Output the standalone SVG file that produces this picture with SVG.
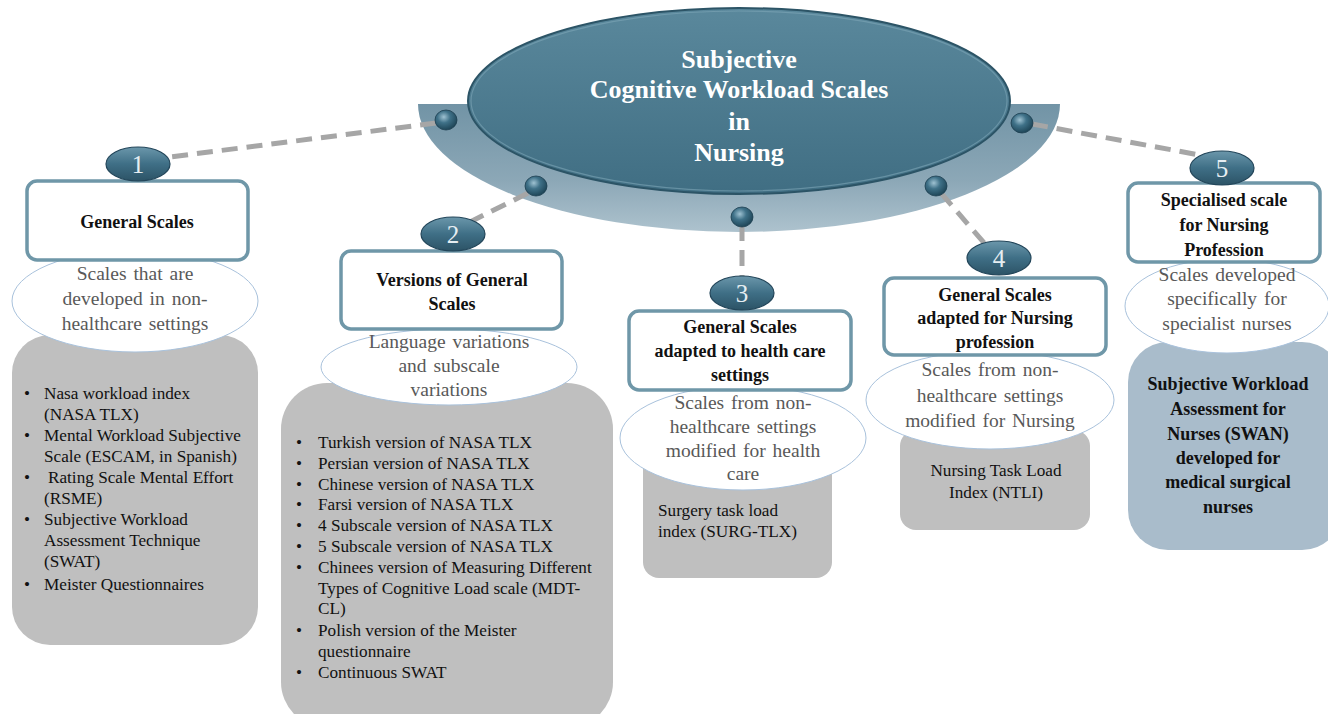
<svg xmlns="http://www.w3.org/2000/svg" width="1328" height="714" viewBox="0 0 1328 714" font-family="'Liberation Serif', 'Times New Roman', serif">
<defs>
<linearGradient id="band" x1="0" y1="0" x2="0" y2="1">
<stop offset="0" stop-color="#6a8ea1"/>
<stop offset="0.6" stop-color="#86a3b3"/>
<stop offset="1" stop-color="#a9bfcb"/>
</linearGradient>
<linearGradient id="hub" x1="0" y1="0" x2="0" y2="1">
<stop offset="0" stop-color="#5a889c"/>
<stop offset="1" stop-color="#406e83"/>
</linearGradient>
<radialGradient id="sph" cx="0.4" cy="0.35" r="0.65">
<stop offset="0" stop-color="#9fc2d2"/>
<stop offset="0.45" stop-color="#3f7188"/>
<stop offset="1" stop-color="#1f4658"/>
</radialGradient>
<linearGradient id="num" x1="0" y1="0" x2="0" y2="1">
<stop offset="0" stop-color="#6b97ab"/>
<stop offset="0.5" stop-color="#3f6f86"/>
<stop offset="1" stop-color="#2c5366"/>
</linearGradient>
</defs>
<style>
text{font-family:'Liberation Serif','Times New Roman',serif}
.conn{stroke:#a6a6a6;stroke-width:5;stroke-dasharray:16 9;fill:none}
.sphere{fill:url(#sph);stroke:#1d3f50;stroke-width:0.8}
.numE{fill:url(#num);stroke:#23465a;stroke-width:1.2}
.numT{font-size:25px;fill:#e6eef2;text-anchor:middle}
.tbox{fill:#ffffff;stroke:#6f97a8;stroke-width:3.5}
.tT{font-size:18px;font-weight:bold;fill:#111;text-anchor:middle}
.desc{fill:#ffffff;stroke:#a9c2dc;stroke-width:1}
.dT{font-size:19.5px;fill:#595959;text-anchor:middle;word-spacing:2px}
.cbox{fill:#bfbfbf}
.cT{font-size:17.2px;fill:#111}
.hubT{font-size:26px;font-weight:bold;fill:#ffffff;text-anchor:middle}
</style>

<g id="hub-node">
<path d="M418,104 L1060,104 A321,128 0 0 1 418,104 Z" fill="url(#band)" opacity="0.95"/>
<ellipse cx="739" cy="101" rx="271" ry="93" fill="url(#hub)" stroke="#2c5466" stroke-width="2"/>
<ellipse cx="739" cy="101" rx="268" ry="90" fill="none" stroke="#7fa6b8" stroke-width="1.2" opacity="0.6"/>
<text class="hubT" x="739" y="68">Subjective</text>
<text class="hubT" x="739" y="98">Cognitive Workload Scales</text>
<text class="hubT" x="739" y="130">in</text>
<text class="hubT" x="739" y="161">Nursing</text>
</g>

<g id="connectors">
<line class="conn" x1="436" y1="123" x2="170" y2="157"/>
<line class="conn" x1="528" y1="193" x2="470" y2="222"/>
<line class="conn" x1="742" y1="225" x2="742" y2="278"/>
<line class="conn" x1="941" y1="193" x2="985" y2="244"/>
<line class="conn" x1="1032" y1="124" x2="1205" y2="156"/>
</g>

<g id="spheres">
<ellipse class="sphere" cx="446" cy="120" rx="11" ry="10"/>
<ellipse class="sphere" cx="536" cy="186" rx="11" ry="10"/>
<ellipse class="sphere" cx="742" cy="217" rx="11" ry="10"/>
<ellipse class="sphere" cx="936" cy="186" rx="11" ry="10"/>
<ellipse class="sphere" cx="1022" cy="123" rx="11" ry="10"/>
</g>

<g id="node1">
<rect class="cbox" x="12" y="335" width="246" height="310" rx="38"/>
<ellipse class="desc" cx="135" cy="301" rx="123" ry="51"/>
<text class="dT" x="135" y="280">Scales that are</text>
<text class="dT" x="135" y="305">developed in non-</text>
<text class="dT" x="135" y="330">healthcare settings</text>
<rect class="tbox" x="27" y="181" width="221" height="79" rx="10"/>
<text class="tT" x="137" y="228">General Scales</text>
<ellipse class="numE" cx="138" cy="164" rx="32" ry="17"/>
<text class="numT" x="138" y="173">1</text>
<g class="cT">
<text x="24" y="399">•</text><text x="44" y="399">Nasa workload index</text>
<text x="44" y="420">(NASA TLX)</text>
<text x="24" y="441">•</text><text x="44" y="441">Mental Workload Subjective</text>
<text x="44" y="462">Scale (ESCAM, in Spanish)</text>
<text x="24" y="483">•</text><text x="48" y="483">Rating Scale Mental Effort</text>
<text x="44" y="504">(RSME)</text>
<text x="24" y="525">•</text><text x="44" y="525">Subjective Workload</text>
<text x="44" y="546">Assessment Technique</text>
<text x="44" y="567">(SWAT)</text>
<text x="24" y="590">•</text><text x="44" y="590">Meister Questionnaires</text>
</g>
</g>

<g id="node2">
<rect class="cbox" x="281" y="383" width="332" height="345" rx="46"/>
<ellipse class="desc" cx="449" cy="367" rx="128" ry="38"/>
<text class="dT" x="449" y="348">Language variations</text>
<text class="dT" x="449" y="372">and subscale</text>
<text class="dT" x="449" y="396">variations</text>
<rect class="tbox" x="341" y="251" width="221" height="78" rx="10"/>
<text class="tT" x="452" y="286">Versions of General</text>
<text class="tT" x="452" y="310">Scales</text>
<ellipse class="numE" cx="453" cy="234" rx="32" ry="17"/>
<text class="numT" x="453" y="243">2</text>
<g class="cT">
<text x="296" y="448">•</text><text x="318" y="448">Turkish version of NASA TLX</text>
<text x="296" y="469">•</text><text x="318" y="469">Persian version of NASA TLX</text>
<text x="296" y="490">•</text><text x="318" y="490">Chinese version of NASA TLX</text>
<text x="296" y="510">•</text><text x="318" y="510">Farsi version of NASA TLX</text>
<text x="296" y="531">•</text><text x="318" y="531">4 Subscale version of NASA TLX</text>
<text x="296" y="552">•</text><text x="318" y="552">5 Subscale version of NASA TLX</text>
<text x="296" y="573">•</text><text x="318" y="573">Chinees version of Measuring Different</text>
<text x="318" y="594">Types of  Cognitive Load scale (MDT-</text>
<text x="318" y="614">CL)</text>
<text x="296" y="636">•</text><text x="318" y="636">Polish version of the Meister</text>
<text x="318" y="657">questionnaire</text>
<text x="296" y="678">•</text><text x="318" y="678">Continuous SWAT</text>
</g>
</g>

<g id="node3">
<rect class="cbox" x="643" y="440" width="189" height="138" rx="16"/>
<ellipse class="desc" cx="743" cy="438" rx="123" ry="52"/>
<text class="dT" x="743" y="409">Scales from non-</text>
<text class="dT" x="743" y="433">healthcare settings</text>
<text class="dT" x="743" y="457">modified for health</text>
<text class="dT" x="743" y="480">care</text>
<rect class="tbox" x="629" y="311" width="222" height="79" rx="10"/>
<text class="tT" x="740" y="333">General Scales</text>
<text class="tT" x="740" y="357">adapted to health care</text>
<text class="tT" x="740" y="381">settings</text>
<ellipse class="numE" cx="742" cy="293" rx="32" ry="17"/>
<text class="numT" x="742" y="302">3</text>
<g class="cT">
<text x="658" y="516">Surgery task load</text>
<text x="658" y="537">index (SURG-TLX)</text>
</g>
</g>

<g id="node4">
<rect class="cbox" x="900" y="430" width="190" height="100" rx="16"/>
<ellipse class="desc" cx="990" cy="400" rx="124" ry="49"/>
<text class="dT" x="990" y="376">Scales from non-</text>
<text class="dT" x="990" y="402">healthcare settings</text>
<text class="dT" x="990" y="427">modified for Nursing</text>
<rect class="tbox" x="884" y="278" width="222" height="77" rx="10"/>
<text class="tT" x="995" y="301">General Scales</text>
<text class="tT" x="995" y="324">adapted for Nursing</text>
<text class="tT" x="995" y="348">profession</text>
<ellipse class="numE" cx="999" cy="258" rx="32" ry="17"/>
<text class="numT" x="999" y="267">4</text>
<g class="cT" text-anchor="middle">
<text x="996" y="476">Nursing Task Load</text>
<text x="996" y="498">Index (NTLI)</text>
</g>
</g>

<g id="node5">
<rect x="1128" y="342" width="214" height="208" rx="40" fill="#a9bccb"/>
<ellipse class="desc" cx="1227" cy="306" rx="102" ry="47"/>
<text class="dT" x="1227" y="281">Scales developed</text>
<text class="dT" x="1227" y="305">specifically for</text>
<text class="dT" x="1227" y="330">specialist nurses</text>
<rect class="tbox" x="1128" y="183" width="192" height="79" rx="10"/>
<text class="tT" x="1224" y="206">Specialised scale</text>
<text class="tT" x="1224" y="231">for Nursing</text>
<text class="tT" x="1224" y="256">Profession</text>
<ellipse class="numE" cx="1222" cy="168" rx="32" ry="17"/>
<text class="numT" x="1222" y="177">5</text>
<g class="tT" font-size="18.5px">
<text x="1228" y="390">Subjective Workload</text>
<text x="1228" y="415">Assessment for</text>
<text x="1228" y="440">Nurses (SWAN)</text>
<text x="1228" y="464">developed for</text>
<text x="1228" y="488">medical surgical</text>
<text x="1228" y="513">nurses</text>
</g>
</g>
</svg>
